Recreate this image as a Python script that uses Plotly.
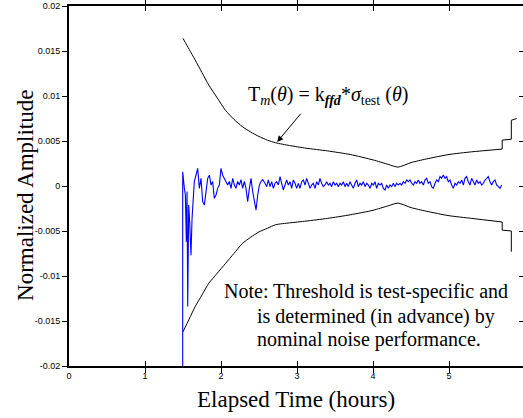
import plotly.graph_objects as go

# ---------------- data ----------------
x_tick_vals = [0, 1, 2, 3, 4, 5, 6]
x_tick_text = ["0", "1", "2", "3", "4", "5", "6"]
y_tick_vals = [0.02, 0.015, 0.01, 0.005, 0, -0.005, -0.01, -0.015, -0.02]
y_tick_text = ["0.02", "0.015", "0.01", "0.005", "0", "-0.005", "-0.01", "-0.015", "-0.02"]

# upper threshold (smooth part)
upper_t = [1.50, 1.58, 1.66, 1.75, 1.84, 1.95, 2.06, 2.17, 2.28, 2.39, 2.50, 2.61, 2.72,
           2.90, 3.12, 3.40, 3.70, 4.00, 4.20, 4.33, 4.50, 4.70, 5.00, 5.30, 5.70]
upper_v = [0.0164, 0.0152, 0.0140, 0.0126, 0.0112, 0.0098, 0.0084, 0.0074, 0.0066, 0.0060,
           0.0055, 0.0051, 0.0048, 0.0045, 0.0042, 0.0039, 0.0035, 0.0029, 0.0024, 0.0021,
           0.0026, 0.0030, 0.0035, 0.0038, 0.0041]
# upper threshold (steps at the end)
upper_step_t = [5.70, 5.70, 5.82, 5.82, 5.89]
upper_step_v = [0.0041, 0.0051, 0.0052, 0.0073, 0.0075]

# lower threshold (smooth part)
lower_t = [1.50, 1.58, 1.66, 1.75, 1.84, 1.95, 2.06, 2.17, 2.28, 2.39, 2.50, 2.61, 2.72,
           2.90, 3.12, 3.40, 3.70, 4.00, 4.20, 4.33, 4.50, 4.70, 5.00, 5.30, 5.70]
lower_v = [-0.0162, -0.0148, -0.0134, -0.0121, -0.0108, -0.0097, -0.0086, -0.0075, -0.0064,
           -0.0057, -0.0051, -0.0047, -0.0043, -0.0041, -0.0039, -0.0036, -0.0032, -0.0027,
           -0.0022, -0.0019, -0.0024, -0.0028, -0.0033, -0.0036, -0.0040]
lower_step_t = [5.70, 5.70, 5.82, 5.82]
lower_step_v = [-0.0040, -0.0049, -0.0050, -0.0073]

# measured normalized signal (values in units of 1e-3)
sig_t = [1.496, 1.496, 1.518, 1.531, 1.544, 1.553, 1.562, 1.575, 1.588, 1.605, 1.619, 1.636,
         1.649, 1.671, 1.693, 1.715, 1.737, 1.759, 1.781, 1.803, 1.825, 1.847, 1.869, 1.890,
         1.912, 1.934, 1.956, 1.978, 2.000, 2.022, 2.044, 2.066, 2.088, 2.110, 2.132, 2.154,
         2.176, 2.197, 2.219, 2.241, 2.263, 2.285, 2.307, 2.329, 2.351, 2.373, 2.395, 2.417,
         2.439, 2.461, 2.483, 2.505, 2.526, 2.548,
         2.579, 2.601, 2.623, 2.645, 2.667, 2.689, 2.711, 2.733, 2.755, 2.777,
         2.798, 2.820, 2.842, 2.864, 2.886, 2.908, 2.930, 2.952, 2.974, 2.996,
         3.018, 3.039, 3.061, 3.083, 3.105, 3.127, 3.149, 3.171, 3.193, 3.215,
         3.237, 3.259, 3.281, 3.302, 3.324, 3.346, 3.368, 3.390, 3.412, 3.434,
         3.456, 3.478, 3.500, 3.522, 3.544, 3.566, 3.588, 3.610, 3.632, 3.654,
         3.675, 3.697, 3.719, 3.741, 3.763, 3.785, 3.807, 3.829, 3.851, 3.873,
         3.895, 3.917, 3.939, 3.961, 3.982, 4.004, 4.026, 4.048, 4.070, 4.092,
         4.114, 4.136, 4.158, 4.180, 4.202, 4.224, 4.246, 4.268, 4.289, 4.311,
         4.333, 4.355, 4.377, 4.399, 4.421, 4.443, 4.465, 4.487, 4.509, 4.531,
         4.553, 4.575, 4.596, 4.618, 4.640, 4.662, 4.684, 4.706, 4.728, 4.750,
         4.772, 4.794, 4.816, 4.838, 4.860, 4.882, 4.903, 4.925, 4.947, 4.969,
         4.991, 5.013, 5.035, 5.057, 5.079, 5.101, 5.123, 5.145, 5.167, 5.189,
         5.210, 5.232, 5.254, 5.276, 5.298, 5.320, 5.342, 5.364, 5.386, 5.408,
         5.430, 5.452, 5.474, 5.496, 5.517, 5.539, 5.561, 5.583, 5.605, 5.627,
         5.649, 5.671, 5.693]
sig_v_milli = [-20.5, 1.59, -0.26, -1.0, -6.2, -0.6, -13.4, -2.1, -4.0, -7.7, -3.6, -1.4,
               0.5, 1.2, 1.96, -0.26, 0.85, -1.74, -2.1, -0.63, 0.85, 1.2, 0.1, 0.5,
               -1.37, -1.0, -0.26, 0.1, 1.96, 1.2, 0.85, 0.5, 0.1, 0.5, -0.26, 0.85,
               0.1, -0.26, 0.5, 0.1, 0.7, -0.26, 0.5, -0.26, -1.74, -0.26, 0.85, -0.63,
               -1.74, -2.67, -1.0, 0.1, 0.5, 0.7,
               0.30, -0.07, 0.67, -0.07, 0.48, -0.26, 0.30, 0.48, 0.11, 1.04,
               0.30, -0.44, 0.11, 0.67, 0.11, 0.48, -0.26, 0.67, 0.30, -0.26,
               0.30, -0.26, 0.48, 0.67, 0.11, 0.85, 0.30, -0.26, 0.11, 0.30,
               -0.26, 0.48, 0.11, 0.85, 0.30, -0.07, 0.11, 0.48, 0.11, 0.30,
               -0.07, 0.48, 0.11, 0.30, -0.07, 0.30, 0.11, 0.48, -0.07, 0.30,
               -0.07, 0.48, 0.11, -0.26, 0.30, 0.67, -0.07, 0.30, 0.11, 0.48,
               -0.07, 0.30, 0.11, -0.26, 0.30, 0.11, 0.48, -0.26, 0.30, 0.11,
               0.30, -0.26, -0.44, 0.11, -0.26, 0.11, -0.07, 0.30, -0.07, 0.30,
               0.11, 0.30, 0.11, 0.48, 0.30, 0.67, 0.48, 0.67, 0.30, 0.11,
               0.48, 0.30, 0.67, 0.30, 0.48, 0.11, 0.67, 0.85, 0.30, 0.48,
               -0.07, -0.26, 0.30, 0.67, 0.48, 1.04, 0.85, 1.22, 0.85, 1.04,
               0.48, 0.67, 0.11, -0.26, 0.30, 0.11, 0.48, 0.30, 0.67, 0.11,
               0.85, 1.04, 0.48, 0.11, 0.85, 0.48, 0.11, 0.67, 0.30, 0.48,
               0.11, 0.30, 0.67, 0.85, 1.04, 0.48, 0.11, 0.48, 0.67, 0.11,
               -0.07, -0.26, 0.11]
sig_v = [v * 1e-3 for v in sig_v_milli]

# ---------------- figure ----------------
serif = "Times New Roman, Liberation Serif, serif"
sans = "Arial, Liberation Sans, sans-serif"

fig = go.Figure()
fig.add_trace(go.Scatter(x=upper_t, y=upper_v, mode="lines", line=dict(color="black", width=1, shape="spline", smoothing=0.6), hoverinfo="skip"))
fig.add_trace(go.Scatter(x=upper_step_t, y=upper_step_v, mode="lines", line=dict(color="black", width=1), hoverinfo="skip"))
fig.add_trace(go.Scatter(x=lower_t, y=lower_v, mode="lines", line=dict(color="black", width=1, shape="spline", smoothing=0.6), hoverinfo="skip"))
fig.add_trace(go.Scatter(x=lower_step_t, y=lower_step_v, mode="lines", line=dict(color="black", width=1), hoverinfo="skip"))
fig.add_trace(go.Scatter(x=sig_t, y=sig_v, mode="lines", line=dict(color="#0000FF", width=1.1), hoverinfo="skip"))
# invisible trace to show right-side inner ticks
fig.add_trace(go.Scatter(x=[0], y=[0], yaxis="y2", mode="lines", line=dict(width=0), opacity=0, hoverinfo="skip"))

x_max = 454 / 76.0

fig.update_layout(
    width=523, height=418,
    margin=dict(l=69, r=0, t=6, b=52),
    paper_bgcolor="white", plot_bgcolor="white",
    showlegend=False,
    xaxis=dict(range=[0, x_max], tickvals=x_tick_vals, ticktext=x_tick_text,
               ticks="inside", ticklen=5, tickwidth=1, tickcolor="black",
               showline=True, linecolor="black", linewidth=2, mirror="allticks",
               showgrid=False, zeroline=False,
               tickfont=dict(family=sans, size=9, color="black")),
    yaxis=dict(range=[-0.02, 0.02], tickvals=y_tick_vals, ticktext=y_tick_text,
               ticks="outside", ticklen=5, tickwidth=1, tickcolor="black",
               showline=True, linecolor="black", linewidth=2, mirror=False,
               showgrid=False, zeroline=False,
               tickfont=dict(family=sans, size=9, color="black")),
    yaxis2=dict(range=[-0.02, 0.02], overlaying="y", side="right", tickvals=y_tick_vals,
                ticks="inside", ticklen=4, tickwidth=1, tickcolor="black",
                showticklabels=False, showline=False, showgrid=False, zeroline=False),
)

ann = []
ann.append(dict(text="Normalized Amplitude", xref="paper", yref="paper", x=-0.097, y=0.475,
                textangle=-90, showarrow=False, font=dict(family=serif, size=23, color="black"),
                xanchor="center", yanchor="middle"))
ann.append(dict(text="Elapsed Time (hours)", xref="paper", yref="paper", x=0.5, y=-0.094,
                showarrow=False, font=dict(family=serif, size=23, color="black"),
                xanchor="center", yanchor="middle"))
ann.append(dict(text="T<sub><i>m</i></sub>(<i>θ</i>) = k<sub><b><i>ffd</i></b></sub>*<i>σ</i><sub>test</sub> (<i>θ</i>)",
                x=3.41, y=0.0101, xref="x", yref="y", showarrow=False,
                font=dict(family=serif, size=20, color="black"), xanchor="center", yanchor="middle"))
ann.append(dict(text=" ", x=2.74, y=0.0049, xref="x", yref="y", showarrow=True,
                ax=25, ay=-30, arrowhead=2, arrowsize=1.2, arrowwidth=1, arrowcolor="black",
                font=dict(size=1)))
note_lines = ["Note: Threshold is test-specific and", "is determined (in advance) by",
              "nominal noise performance."]
note_x = [2.013, 2.447, 2.447]
note_y = [-0.01174, -0.01452, -0.01711]
for txt, nx, ny in zip(note_lines, note_x, note_y):
    ann.append(dict(text=txt, x=nx, y=ny, xref="x", yref="y", showarrow=False,
                    xanchor="left", yanchor="middle",
                    font=dict(family=serif, size=20, color="black")))
fig.update_layout(annotations=ann)

fig.write_html("out.html")
